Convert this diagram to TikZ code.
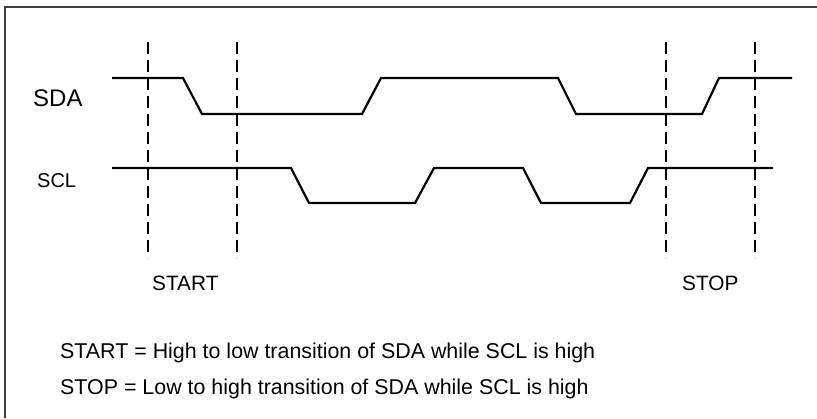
\documentclass[tikz,border=0pt]{standalone}
\usepackage{fontspec}
\setmainfont{Liberation Sans}
\begin{document}
\begin{tikzpicture}[x=1pt,y=-1pt,
  frameline/.style={draw=black!75,line width=1.5pt},
  signal/.style={draw=black,line width=2.2pt,line join=miter},
  marker/.style={draw=black,line width=2.3pt,dash pattern=on 12pt off 6pt},
  lbl/.style={inner sep=0pt,anchor=west},
  note/.style={inner sep=0pt,anchor=base west,font=\fontsize{21.4}{25}\selectfont}]
\useasboundingbox (0,0) rectangle (817,418);
% frame
\draw[frameline] (5,418) -- (5,7) -- (817,7);
% marker lines
\foreach \name/\x in {ma/148,mb/237,mc/666,md/755}{
  \coordinate (\name t) at (\x,42);
  \coordinate (\name b) at (\x,258);
  \draw[marker] (\name t) -- (\name b);
}
% SDA
\draw[signal] (112,78) -- (183,78) -- (202,114) -- (362,114) -- (381,78) -- (558,78)
  -- (576,114) -- (702,114) -- (719,78) -- (792,78);
% SCL
\draw[signal] (112,168) -- (291,168) -- (309,203) -- (415,203) -- (434,168) -- (523,168)
  -- (541,203) -- (630,203) -- (648,168) -- (773,168);
% labels
\node[lbl,font=\fontsize{24}{28}\selectfont] (sda) at (33,98) {SDA};
\node[lbl,font=\fontsize{20}{23}\selectfont] (scl) at (37,181) {SCL};
\node[lbl,font=\fontsize{20.8}{23}\selectfont] (start) at (152,283) {START};
\node[lbl,font=\fontsize{20.8}{23}\selectfont] (stop) at (682,283) {STOP};
\node[note] (n1) at (60,358) {START = High to low transition of SDA while SCL is high};
\node[note] (n2) at (60,394) {STOP = Low to high transition of SDA while SCL is high};
\end{tikzpicture}
\end{document}
